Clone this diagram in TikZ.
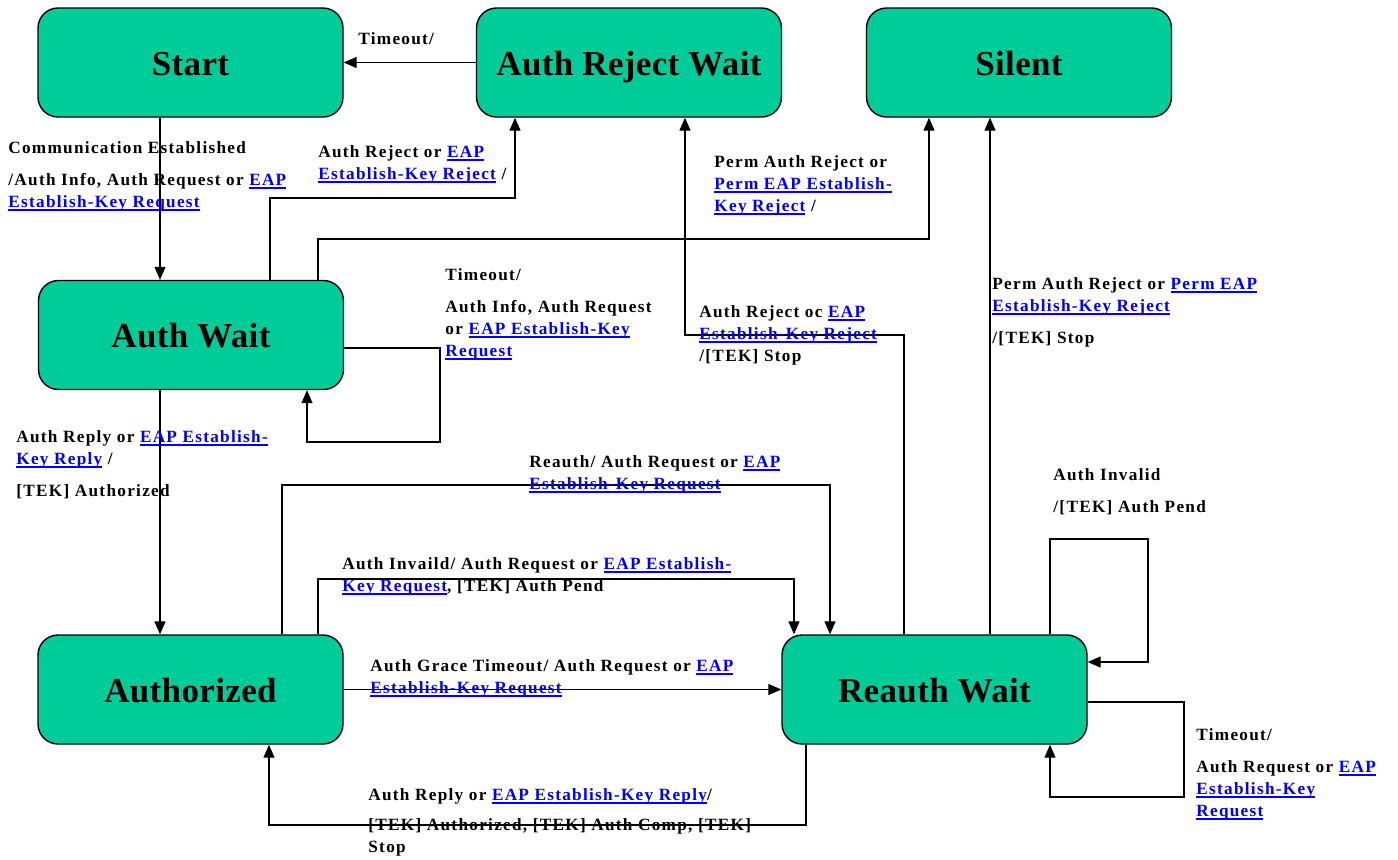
\documentclass[tikz,border=0pt]{standalone}
\usepackage{fontspec}
\setmainfont{Liberation Serif}
\newfontfamily\lblfont{Liberation Serif}[LetterSpace=7.5]
\newfontfamily\boxfont{Liberation Serif}[LetterSpace=1]
\usetikzlibrary{arrows.meta}
\definecolor{stategreen}{RGB}{0,204,153}
\definecolor{linkblue}{RGB}{0,0,255}
\newcommand{\lnk}[1]{{\color{linkblue}\setbox0=\hbox{#1}\rlap{\rule[-1.8pt]{\wd0}{0.9pt}}\box0}}
\tikzset{
  state/.style={draw=black, line width=0.7pt, fill=stategreen, rounded corners=10pt,
    minimum width=152.5pt, minimum height=54.5pt, inner sep=0pt,
    text height=12.6pt, text depth=0pt,
    font=\boxfont\bfseries\fontsize{17.5}{20}\selectfont},
  arr/.style={draw=black, line width=0.65pt, -{Triangle[length=6.5pt,width=5.5pt]}},
  lbl/.style={anchor=north west, inner sep=0pt, align=left,
    font=\lblfont\bfseries\fontsize{8.6}{11}\selectfont}
}
\begin{document}
\begin{tikzpicture}[x=0.5pt, y=-0.5pt]
\useasboundingbox (0,0) rectangle (1398,859);
% states
\node[state] (start)  at (190.5,62.5) {Start};
\node[state] (arw)    at (629,62.5)   {Auth Reject Wait};
\node[state] (silent) at (1019,62.5)  {Silent};
\node[state] (aw)     at (191,335)    {Auth Wait};
\node[state] (auth)   at (190.5,689.5) {Authorized};
\node[state] (rw)     at (934.5,689.5) {Reauth Wait};
% connectors
\draw[arr] (arw.west) -- (start.east);
\draw[arr] (160,0 |- start.south) -- (160,0 |- aw.north);
\draw[arr] (270,0 |- aw.north) |- (515,198) -- (515,0 |- arw.south);
\draw[arr] (318,0 |- aw.north) |- (929,239) -- (929,0 |- silent.south);
\draw[arr] (aw.east |- 0,348) -| (440,442) -| (307,0 |- aw.south);
\draw[arr] (160,0 |- aw.south) -- (160,0 |- auth.north);
\draw[arr] (282,0 |- auth.north) |- (830,485) -- (830,0 |- rw.north);
\draw[arr] (318,0 |- auth.north) |- (794,579) -- (794,0 |- rw.north);
\draw[arr] (auth.east) -- (rw.west);
\draw[arr] (806,0 |- rw.south) |- (269,825) -- (269,0 |- auth.south);
\draw[arr] (904,0 |- rw.north) |- (685,335) -- (685,0 |- arw.south);
\draw[arr] (990,0 |- rw.north) -- (990,0 |- silent.south);
\draw[arr] (1050,0 |- rw.north) |- (1148,539) |- (rw.east |- 0,662);
\draw[arr] (rw.east |- 0,702) -| (1184,797) -| (1050,0 |- rw.south);
% labels
\node[lbl] (l1) at (358,32) {Timeout/};
\node[lbl] (l2) at (8,141) {Communication Established\\[5pt]/Auth Info, Auth Request or \lnk{EAP}\\\lnk{Establish-Key Request}};
\node[lbl] (l3) at (318,145) {Auth Reject or \lnk{EAP}\\\lnk{Establish-Key Reject} /};
\node[lbl] (l4) at (714,155) {Perm Auth Reject or\\\lnk{Perm EAP Establish-}\\\lnk{Key Reject} /};
\node[lbl] (l5) at (445,268) {Timeout/\\[5pt]Auth Info, Auth Request\\or \lnk{EAP Establish-Key}\\\lnk{Request}};
\node[lbl] (l6) at (699,305) {Auth Reject oc \lnk{EAP}\\\lnk{Establish-Key Reject}\\/[TEK] Stop};
\node[lbl] (l7) at (992,277) {Perm Auth Reject or \lnk{Perm EAP}\\\lnk{Establish-Key Reject}\\[5pt]/[TEK] Stop};
\node[lbl] (l8) at (16,430) {Auth Reply or \lnk{EAP Establish-}\\\lnk{Key Reply} /\\[5pt]{}[TEK] Authorized};
\node[lbl] (l9) at (529,455) {Reauth/ Auth Request or \lnk{EAP}\\\lnk{Establish-Key Request}};
\node[lbl] (l10) at (342,557) {Auth Invaild/ Auth Request or \lnk{EAP Establish-}\\\lnk{Key Request}, [TEK] Auth Pend};
\node[lbl] (l11) at (370,659) {Auth Grace Timeout/ Auth Request or \lnk{EAP}\\\lnk{Establish-Key Request}};
\node[lbl] (l12) at (368,788) {Auth Reply or \lnk{EAP Establish-Key Reply}/\\[4pt]{}[TEK] Authorized, [TEK] Auth Comp, [TEK]\\Stop};
\node[lbl] (l13) at (1053,468) {Auth Invalid\\[5pt]/[TEK] Auth Pend};
\node[lbl] (l14) at (1196,728) {Timeout/\\[5pt]Auth Request or \lnk{EAP}\\\lnk{Establish-Key}\\\lnk{Request}};
\end{tikzpicture}
\end{document}
